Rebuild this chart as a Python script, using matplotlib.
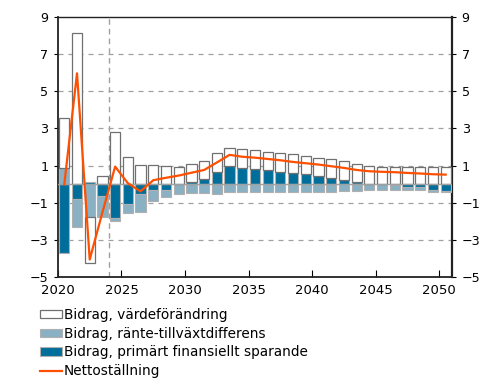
import matplotlib
matplotlib.use("Agg")
import matplotlib.pyplot as plt
import numpy as np
from matplotlib.patches import Patch
from matplotlib.lines import Line2D

years = list(range(2020, 2051))

primart = [-3.67, -0.79, 0.13, -0.61, -1.82, -1.06, -0.53, -0.31, -0.31, 0.0,
           0.10, 0.26, 0.68, 0.98, 0.88, 0.81, 0.76, 0.67, 0.60, 0.54,
           0.44, 0.35, 0.24, 0.13, 0.0, 0.0, -0.05, -0.13, -0.16, -0.30, -0.36]
ranta = [0.86, -1.51, -1.77, -1.12, -0.13, -0.50, -0.97, -0.57, -0.39, -0.50,
         -0.45, -0.45, -0.53, -0.44, -0.44, -0.44, -0.43, -0.42, -0.40, -0.40,
         -0.40, -0.39, -0.38, -0.38, -0.32, -0.30, -0.27, -0.20, -0.15, -0.10, -0.05]
varde = [2.69, 8.15, -2.45, 0.45, 2.82, 1.48, 1.04, 1.04, 0.97, 0.95,
         0.98, 1.00, 1.00, 0.99, 1.02, 1.01, 0.99, 0.99, 1.01, 0.98,
         0.99, 0.99, 1.00, 0.98, 1.00, 0.93, 0.93, 0.92, 0.92, 0.92, 0.92]
netto = [0.0, 5.96, -4.04, -1.5, 0.95, 0.06, -0.38, 0.22, 0.35, 0.47,
         0.62, 0.77, 1.17, 1.58, 1.48, 1.43, 1.36, 1.29, 1.20, 1.13,
         1.06, 0.97, 0.88, 0.77, 0.70, 0.67, 0.65, 0.61, 0.58, 0.54, 0.52]

labels = ["Bidrag, värdeförändring", "Bidrag, ränte-tillväxtdifferens",
          "Bidrag, primärt finansiellt sparande", "Nettoställning"]

c_dark = "#006E9B"
c_light = "#8AB0C4"
c_line = "#FF4F00"

plt.rcParams['font.family'] = ['DejaVu Sans']
fig = plt.figure(figsize=(4.91, 3.79), dpi=100)
ax = fig.add_axes([0.118, 0.268, 0.8026, 0.688])

x = np.array(years) + 0.5
w = 0.8
pos = np.zeros(len(years))
neg = np.zeros(len(years))

def stack(vals, **kw):
    v = np.array(vals, dtype=float)
    bottoms = np.where(v >= 0, pos, neg)
    ax.bar(x, v, w, bottom=bottoms, zorder=3, **kw)
    pos[:] = np.where(v >= 0, pos + v, pos)
    neg[:] = np.where(v < 0, neg + v, neg)

stack(primart, color=c_dark, edgecolor="#b0b0b0", linewidth=0.8)
stack(ranta, color=c_light, edgecolor="#b0b0b0", linewidth=0.8)
stack(varde, color="white", edgecolor="#707070", linewidth=0.9)

ax.plot(x, netto, color=c_line, lw=1.6, zorder=5)

ax.axhline(0, color="#a0a0a0", lw=1.0, zorder=4)
ax.axvline(2024, color="#a0a0a0", lw=1.0, ls=(0, (4, 3)), zorder=2)
for yv in [7, 5, 3, 1, -1, -3]:
    ax.axhline(yv, color="#a0a0a0", lw=0.9, ls=(0, (4, 4)), zorder=1)

ax.set_xlim(2020, 2051)
ax.set_ylim(-5, 9)
ax.set_yticks(range(-5, 10, 2))
ax.set_xticks(range(2020, 2051, 5))
ax.tick_params(axis='x', direction='in', length=5, labelsize=9.5, pad=5)
ax.tick_params(axis='y', direction='out', length=3, labelsize=9.2,
               left=True, right=True, labelleft=True, labelright=True, pad=4)
for s in ax.spines.values():
    s.set_color("#222222")
    s.set_linewidth(1.0)
ax.spines['left'].set_linewidth(1.3)
ax.spines['right'].set_linewidth(1.6)
ax.spines['bottom'].set_linewidth(1.3)

handles = [Patch(facecolor="white", edgecolor="#707070", linewidth=0.9),
           Patch(facecolor=c_light, edgecolor="#b0b0b0", linewidth=0.8),
           Patch(facecolor=c_dark, edgecolor="#b0b0b0", linewidth=0.8),
           Line2D([0], [0], color=c_line, lw=1.6)]
fig.legend(handles, labels, loc="upper left", bbox_to_anchor=(40/491, 1-308/379),
           frameon=False, fontsize=9.8, borderpad=0, borderaxespad=0,
           handlelength=1.65, handleheight=0.55, handletextpad=0.12, labelspacing=0.345)

fig.savefig("out.png", dpi=100)
